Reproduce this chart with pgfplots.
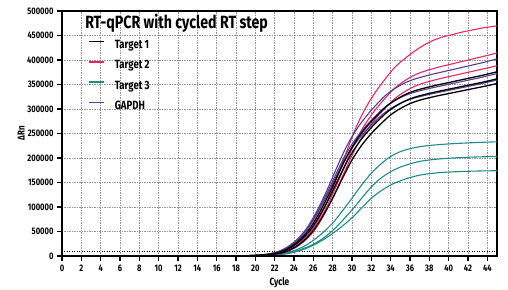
\documentclass[border=0pt]{standalone}
\usepackage{fontspec}
\setmainfont{Fira Sans}[FakeStretch=0.8]
\usepackage{pgfplots}
\pgfplotsset{compat=1.18}
\definecolor{tpink}{RGB}{232,38,104}
\definecolor{tteal}{RGB}{28,140,138}
\definecolor{tpurple}{RGB}{88,58,150}
\begin{document}
\begin{tikzpicture}
\useasboundingbox (-62bp,-34bp) rectangle (446bp,256bp);
\begin{axis}[
  at={(0,0)}, anchor=south west,
  scale only axis, width=435bp, height=245bp,
  xmin=0, xmax=45, ymin=0, ymax=500000,
  xtick={0,2,...,44}, ytick={0,50000,...,500000},
  scaled y ticks=false,
  /pgf/number format/assume math mode=true,
  yticklabel style={/pgf/number format/fixed, /pgf/number format/precision=0, /pgf/number format/1000 sep={}, font=\bfseries\fontsize{9.5}{10}\selectfont},
  xticklabel style={font=\bfseries\fontsize{9.5}{10}\selectfont},
  tick align=outside, major tick length=5bp,
  tick style={black, line width=1.6bp},
  xtick pos=bottom, ytick pos=left,
  grid=major,
  grid style={gray!85, line width=0.7bp, dash pattern=on 1.2bp off 1.3bp},
  axis line style={black, line width=1.6bp},
  xlabel={Cycle}, ylabel={ΔRn},
  xlabel style={font=\bfseries\fontsize{10.5}{11}\selectfont, at={(axis description cs:0.5,-0.11)}, anchor=center},
  ylabel style={font=\bfseries\fontsize{10}{11}\selectfont, at={(axis description cs:-0.094,0.5)}, anchor=center},
  legend style={at={(rel axis cs:0.06,0.88)}, anchor=north west, draw=none, fill=none, inner sep=0pt,
    font=\bfseries\fontsize{12}{12}\selectfont,
    nodes={inner sep=0pt, text height=7bp, text depth=0pt, anchor=west}, row sep=12.7bp},
  legend cell align=left,
  legend image code/.code={\draw[#1] (0bp,3.5bp) -- (15bp,3.5bp);},
  /tikz/every odd column/.append style={column sep=10bp},
]
\addlegendimage{black, line width=1.5bp}
\addlegendentry{Target 1}
\addlegendimage{tpink, line width=1.5bp}
\addlegendentry{Target 2}
\addlegendimage{tteal, line width=1.5bp}
\addlegendentry{Target 3}
\addlegendimage{tpurple, line width=1.5bp}
\addlegendentry{GAPDH}

% threshold
\addplot[forget plot, black, line width=1bp, dash pattern=on 1bp off 1.5bp] coordinates {(0,9000) (45,9000)};

% Target 3 (teal)
\addplot[forget plot, tteal, line width=1.1bp, smooth] coordinates {
(0,0) (18,0) (19,300) (20,700) (21,1300) (22,2600) (23,5500) (24,11000) (25,19500) (26,32000) (27,48000) (28,67000) (29,92000) (30,118000) (31,145000) (32,169000) (33,188000) (34,203000) (35,213000) (36,219000) (37,223000) (38,225500) (39,227300) (40,228700) (41,229800) (42,230800) (43,231700) (44,232400) (45,233000)};
\addplot[forget plot, tteal, line width=1.1bp, smooth] coordinates {
(0,0) (18,0) (19,250) (20,600) (21,1100) (22,2200) (23,4600) (24,9000) (25,15500) (26,24000) (27,36000) (28,52000) (29,72000) (30,94000) (31,118000) (32,141000) (33,159000) (34,172000) (35,181500) (36,188000) (37,193000) (38,196000) (39,198000) (40,199500) (41,200600) (42,201500) (43,202200) (44,202700) (45,203000)};
\addplot[forget plot, tteal, line width=1.1bp, smooth] coordinates {
(0,0) (18,0) (19,200) (20,500) (21,900) (22,1800) (23,3800) (24,7500) (25,13500) (26,22000) (27,33000) (28,46000) (29,61000) (30,78000) (31,98000) (32,118000) (33,133000) (34,145000) (35,153500) (36,160000) (37,165000) (38,168000) (39,170000) (40,171300) (41,172200) (42,172900) (43,173400) (44,173800) (45,174000)};

% Target 2 (pink)
\addplot[forget plot, tpink, line width=1.1bp, smooth] coordinates {
(0,0) (6,0) (6.5,1500) (7,0) (18.4,0) (19.4,401) (20.4,1068) (21.4,2270) (22.4,4940) (23.4,10680) (24.4,22695) (25.4,41385) (26.4,69420) (27.4,109470) (28.4,157530) (29.4,210930) (30.4,261660) (31.4,301710) (32.4,333750) (33.4,360450) (34.4,384480) (35.4,401835) (36.4,417000) (37.4,430000) (38.4,440000) (39.4,447000) (40.4,452000) (41.4,457000) (42.4,461000) (43.4,465000) (44.4,468000) (45.4,471000)};
\addplot[forget plot, tpink, line width=1.1bp, smooth] coordinates {
(0,0) (18.3,0) (19.3,355) (20.3,946) (21.3,2009) (22.3,4373) (23.3,9456) (24.3,20094) (25.3,36642) (26.3,61464) (27.3,96924) (28.3,139476) (29.3,186756) (30.3,231672) (31.3,267132) (32.3,295500) (33.3,319140) (34.3,340416) (35.3,355782) (36.3,367602) (37.3,375876) (38.3,381786) (39.3,387105) (40.3,391833) (41.3,396561) (42.3,401289) (43.3,406017) (44.3,410745) (45.3,416064)};
\addplot[forget plot, tpink, line width=1.1bp, smooth] coordinates {
(0,0) (18.3,0) (19.3,332) (20.3,886) (21.3,1884) (22.3,4100) (23.3,8864) (24.3,18836) (25.3,34348) (26.3,57616) (27.3,90856) (28.3,130744) (29.3,175064) (30.3,217168) (31.3,250408) (32.3,277000) (33.3,299160) (34.3,319104) (35.3,333508) (36.3,344588) (37.3,352344) (38.3,357884) (39.3,362870) (40.3,367302) (41.3,371734) (42.3,376166) (43.3,380598) (44.3,385030) (45.3,390016)};

% GAPDH (purple)
\addplot[forget plot, tpurple, line width=1.1bp, smooth] coordinates {
(0,0) (17.4,0) (18.4,340) (19.4,907) (20.4,1928) (21.4,4196) (22.4,9072) (23.4,19278) (24.4,35154) (25.4,58968) (26.4,92988) (27.4,133812) (28.4,179172) (29.4,222264) (30.4,256284) (31.4,283500) (32.4,306180) (33.4,326592) (34.4,341334) (35.4,352674) (36.4,360612) (37.4,366282) (38.4,371385) (39.4,375921) (40.4,380457) (41.4,384993) (42.4,389529) (43.4,394065) (44.4,399168) (45,402200)};
\addplot[forget plot, tpurple, line width=1.1bp, smooth] coordinates {
(0,0) (17.3,0) (18.3,314) (19.3,838) (20.3,1782) (21.3,3878) (22.3,8384) (23.3,17816) (24.3,32488) (25.3,54496) (26.3,85936) (27.3,123664) (28.3,165584) (29.3,205408) (30.3,236848) (31.3,262000) (32.3,282960) (33.3,301824) (34.3,315448) (35.3,325928) (36.3,333264) (37.3,338504) (38.3,343220) (39.3,347412) (40.3,351604) (41.3,355796) (42.3,359988) (43.3,364180) (44.3,368896) (45,372200)};
\addplot[forget plot, tpurple, line width=1.1bp, smooth] coordinates {
(0,0) (17.3,0) (18.3,303) (19.3,809) (20.3,1719) (21.3,3741) (22.3,8088) (23.3,17187) (24.3,31341) (25.3,52572) (26.3,82902) (27.3,119298) (28.3,159738) (29.3,198156) (30.3,228486) (31.3,252750) (32.3,272970) (33.3,291168) (34.3,304311) (35.3,314421) (36.3,321498) (37.3,326553) (38.3,331103) (39.3,335147) (40.3,339191) (41.3,343235) (42.3,347279) (43.3,351323) (44.3,355872) (45,359000)};

% Target 1 (black)
\addplot[forget plot, black, line width=1.3bp, smooth] coordinates {
(0,0) (18,0) (19,300) (20,800) (21,1700) (22,3700) (23,8000) (24,17000) (25,31000) (26,52000) (27,82000) (28,118000) (29,158000) (30,196000) (31,226000) (32,250000) (33,270000) (34,288000) (35,301000) (36,311000) (37,318000) (38,323000) (39,327500) (40,331500) (41,335500) (42,339500) (43,343500) (44,347500) (45,352000)};
\addplot[forget plot, black, line width=1.3bp, smooth] coordinates {
(0,0) (17.7,0) (18.7,307) (19.7,818) (20.7,1739) (21.7,3785) (22.7,8184) (23.7,17391) (24.7,31713) (25.7,53196) (26.7,83886) (27.7,120714) (28.7,161634) (29.7,200508) (30.7,231198) (31.7,255750) (32.7,276210) (33.7,294624) (34.7,307923) (35.7,318153) (36.7,325314) (37.7,330429) (38.7,335033) (39.7,339125) (40.7,343217) (41.7,347309) (42.7,351401) (43.7,355493) (44.7,360096) (45,361500)};
\addplot[forget plot, black, line width=1.3bp, smooth] coordinates {
(0,0) (17.6,0) (18.6,319) (19.6,850) (20.6,1806) (21.6,3931) (22.6,8500) (23.6,18063) (24.6,32938) (25.6,55250) (26.6,87125) (27.6,125375) (28.6,167875) (29.6,208250) (30.6,240125) (31.6,265625) (32.6,286875) (33.6,306000) (34.6,319813) (35.6,330438) (36.6,337875) (37.6,343188) (38.6,347969) (39.6,352219) (40.6,356469) (41.6,360719) (42.6,364969) (43.6,369219) (44.6,374000) (45,375900)};

\node[anchor=base west, font=\bfseries\fontsize{17.8}{18}\selectfont, inner sep=0pt] at (rel axis cs:0.053,0.93) {RT-qPCR with cycled RT step};
\draw[black, line width=2.6bp] (rel axis cs:0,1) -- (rel axis cs:0,0) -- (rel axis cs:1,0);
\end{axis}
\end{tikzpicture}
\end{document}
